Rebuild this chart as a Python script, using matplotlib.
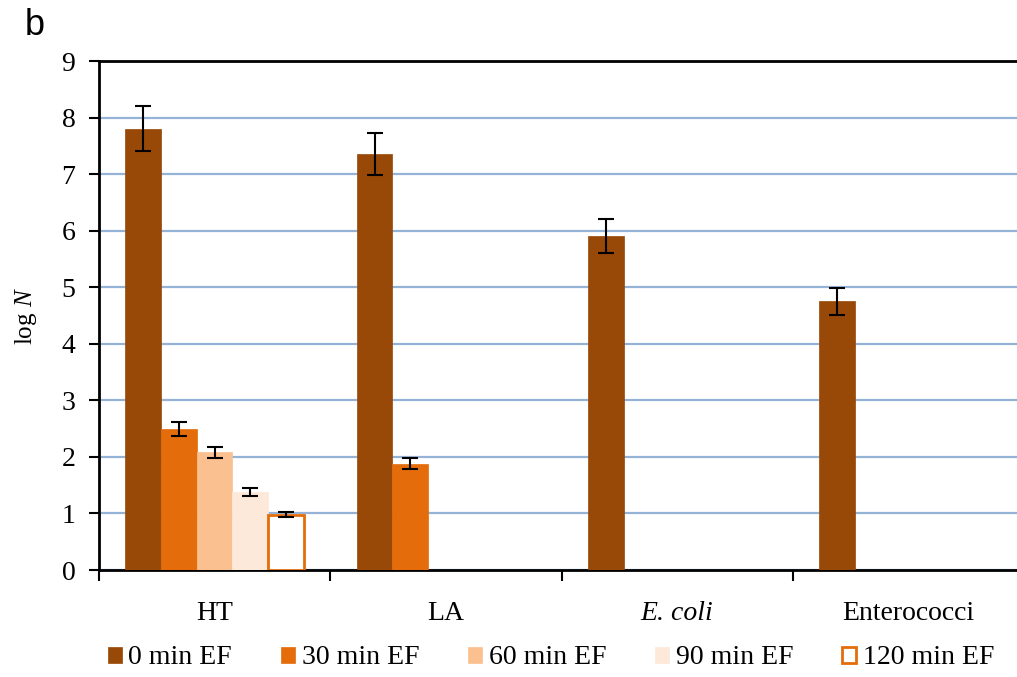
import numpy as np
import matplotlib.pyplot as plt

plt.rcParams['font.family'] = ['Liberation Serif', 'DejaVu Serif']
plt.rcParams['mathtext.fontset'] = 'custom'
plt.rcParams['mathtext.rm'] = 'Liberation Serif'
plt.rcParams['mathtext.it'] = 'Liberation Serif:italic'

categories = ['HT', 'LA', 'E. coli', 'Enterococci']
series = ['0 min EF', '30 min EF', '60 min EF', '90 min EF', '120 min EF']

# log N per treatment time (NaN = no bar)
values = [
    [7.80, 7.36, 5.91, 4.75],
    [2.49, 1.88, np.nan, np.nan],
    [2.08, np.nan, np.nan, np.nan],
    [1.38, np.nan, np.nan, np.nan],
    [0.98, np.nan, np.nan, np.nan],
]
errors = [
    [0.40, 0.37, 0.30, 0.24],
    [0.12, 0.10, 0, 0],
    [0.10, 0, 0, 0],
    [0.07, 0, 0, 0],
    [0.04, 0, 0, 0],
]

faces = ['#984807', '#E46C0A', '#FAC090', '#FDE9D9', 'white']
edges = ['#984807', '#E46C0A', '#FAC090', '#FDE9D9', '#E46C0A']

fig = plt.figure(figsize=(10.17, 6.77), dpi=100)
ax = fig.add_axes([99 / 1017, 107 / 677, 925 / 1017, 509 / 677])

x = np.arange(len(categories))
w = 0.1543
for i, s in enumerate(series):
    v = np.array(values[i], dtype=float)
    e = np.array(errors[i], dtype=float)
    ok = ~np.isnan(v)
    pos = x - 2 * w + i * w
    ax.bar(pos[ok], v[ok], width=w, color=faces[i], edgecolor=edges[i],
           linewidth=2 if i == 4 else 0.5, label=s, zorder=3)
    ax.errorbar(pos[ok], v[ok], yerr=e[ok], fmt='none', ecolor='black',
                elinewidth=1.5, capsize=5.5, capthick=1.5, zorder=4)

ax.set_xlim(-0.5, 3.5)
ax.set_ylim(0, 9)
ax.set_yticks(range(0, 10))
ax.yaxis.grid(True, color='#95B3D7', linewidth=1.6, zorder=0)
ax.set_axisbelow(True)

ax.set_xticks(x)
ax.set_xticklabels(categories, fontsize=20)
ax.get_xticklabels()[2].set_fontstyle('italic')
ax.set_xticks(np.arange(-0.5, 3.5, 1), minor=True)
ax.tick_params(axis='x', which='major', length=0, pad=22)
ax.tick_params(axis='x', which='minor', length=8, width=1.5, direction='out')
ax.tick_params(axis='y', labelsize=20, length=7, width=1.5, pad=10)

for side in ['left', 'bottom', 'top']:
    ax.spines[side].set_linewidth(2)
    ax.spines[side].set_color('black')
ax.spines['right'].set_visible(False)

ax.set_ylabel('log $\\it{N}$', fontsize=18, labelpad=16)

fig.text(0.024, 0.963, 'b', fontsize=26, family='Liberation Sans', va='center')

leg = ax.legend(loc='center', bbox_to_anchor=(551 / 1017, 19 / 677),
                bbox_transform=fig.transFigure, ncol=5, frameon=False,
                fontsize=20, handlelength=0.5, handleheight=0.5,
                handletextpad=0.25, columnspacing=1.75)

fig.savefig('out.png', dpi=100)
